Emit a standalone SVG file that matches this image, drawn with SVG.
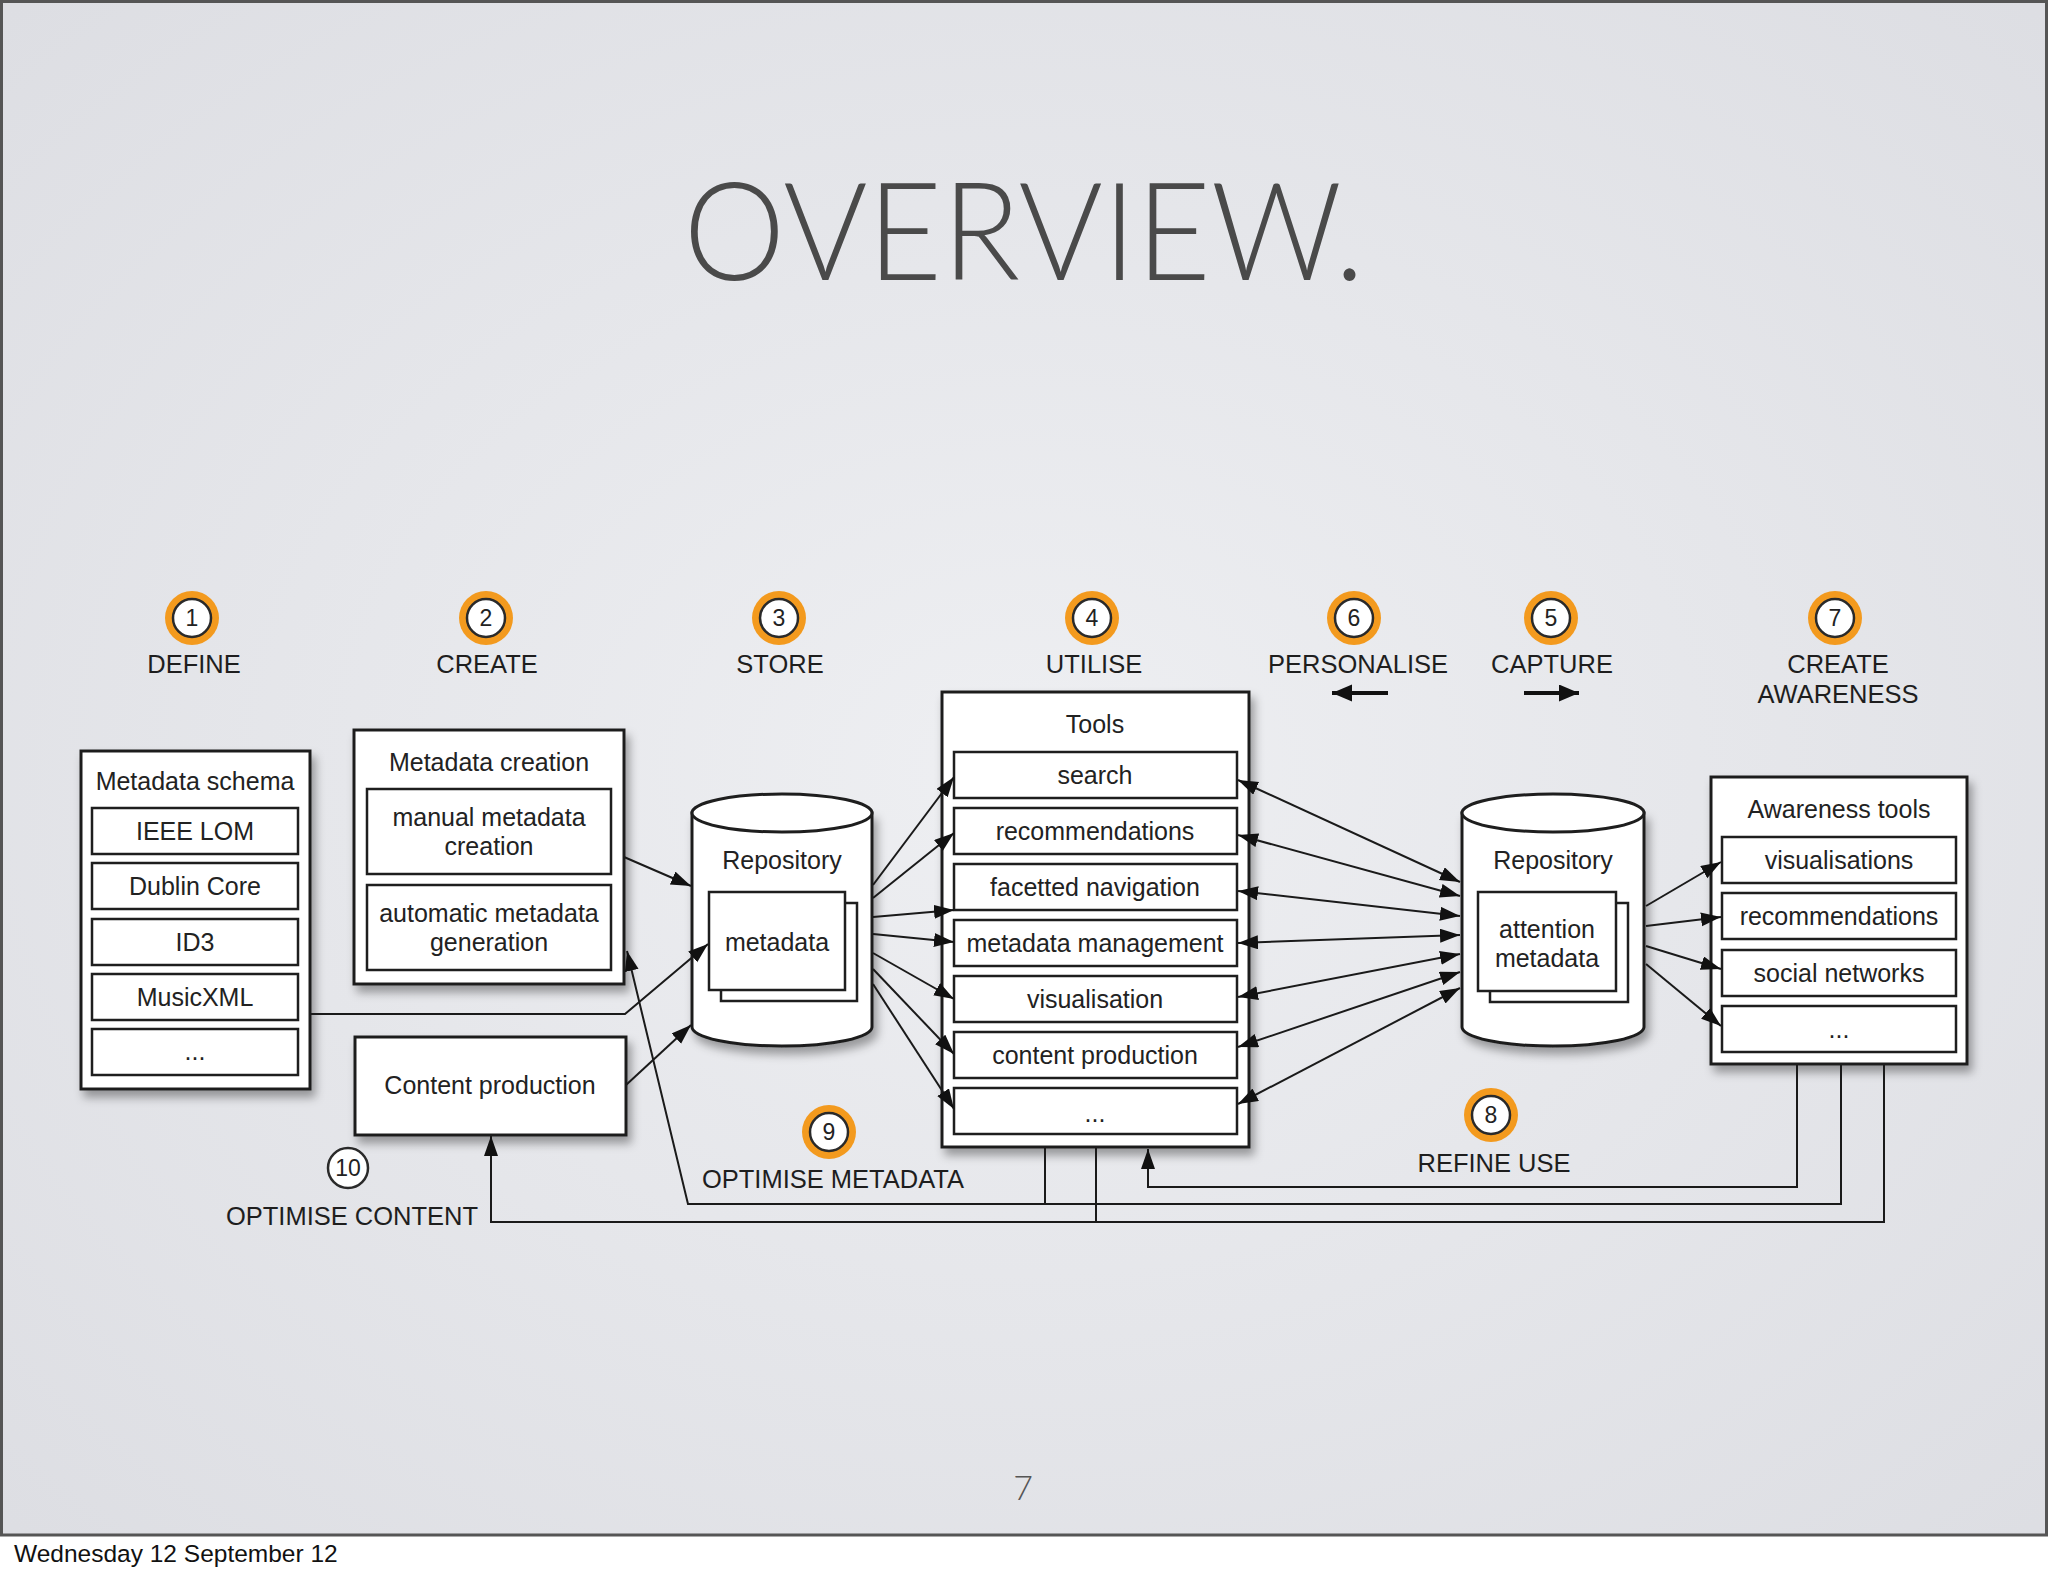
<svg xmlns="http://www.w3.org/2000/svg" width="2048" height="1576" viewBox="0 0 2048 1576">
<defs>
<radialGradient id="bg" cx="50%" cy="50%" r="70%">
<stop offset="0" stop-color="#eeeff2"/>
<stop offset="1" stop-color="#dddee3"/>
</radialGradient>
<filter id="sh" x="-10%" y="-10%" width="130%" height="130%">
<feDropShadow dx="4" dy="7" stdDeviation="5" flood-color="#000" flood-opacity="0.35"/>
</filter>
<marker id="ah" markerUnits="userSpaceOnUse" markerWidth="22" markerHeight="16" refX="20" refY="7" orient="auto-start-reverse">
<path d="M0,0 L20,7 L0,14 z" fill="#111"/>
</marker>
<marker id="big" markerUnits="userSpaceOnUse" markerWidth="22" markerHeight="18" refX="20" refY="8.5" orient="auto">
<path d="M0,0 L20,8.5 L0,17 z" fill="#111"/>
</marker>
<style>
.box{fill:#fff;stroke:#1e1e1e;stroke-width:3}
.in{fill:#fff;stroke:#1e1e1e;stroke-width:2.5}
.t{font-family:"Liberation Sans",Arial,sans-serif;font-size:25px;fill:#222;text-anchor:middle}
.lbl{font-family:"Liberation Sans",Arial,sans-serif;font-size:25.5px;fill:#1e1e1e;text-anchor:middle}
.num{font-family:"Liberation Sans",Arial,sans-serif;font-size:23px;fill:#222;text-anchor:middle}
.ring{fill:#f39a1e}
.disc{fill:#fff;stroke:#2a2a2a;stroke-width:2.5}
.c{fill:none;stroke:#1a1a1a;stroke-width:2}
.ca{fill:none;stroke:#1a1a1a;stroke-width:2;marker-end:url(#ah)}
.cb{fill:none;stroke:#1a1a1a;stroke-width:2;marker-end:url(#ah);marker-start:url(#ah)}
</style>
</defs>

<rect x="0" y="0" width="2048" height="1576" fill="#fff"/>
<rect x="1.5" y="1.5" width="2045" height="1533.5" fill="url(#bg)" stroke="#555" stroke-width="3"/>
<text x="1024" y="280" font-family="Lato,'Open Sans','DejaVu Sans',sans-serif" font-weight="300" font-size="137" fill="#4a4a4a" text-anchor="middle" textLength="681" lengthAdjust="spacingAndGlyphs">OVERVIEW.</text>
<text x="1023" y="1500" font-family="Lato,'Open Sans',sans-serif" font-weight="300" font-size="34" fill="#555" text-anchor="middle">7</text>
<text x="14" y="1562" font-family="'Liberation Sans',Arial,sans-serif" font-size="24.5" fill="#111">Wednesday 12 September 12</text>

<g id="schema">
<rect class="box" x="81" y="751" width="229" height="338" filter="url(#sh)"/>
<text class="t" x="195" y="790">Metadata schema</text>
<rect class="in" x="92" y="808" width="206" height="46"/>
<text class="t" x="195" y="840">IEEE LOM</text>
<rect class="in" x="92" y="863" width="206" height="46"/>
<text class="t" x="195" y="895">Dublin Core</text>
<rect class="in" x="92" y="919" width="206" height="46"/>
<text class="t" x="195" y="951">ID3</text>
<rect class="in" x="92" y="974" width="206" height="46"/>
<text class="t" x="195" y="1006">MusicXML</text>
<rect class="in" x="92" y="1029" width="206" height="46"/>
<text class="t" x="195" y="1060">...</text>
</g>

<g id="creation">
<rect class="box" x="354" y="730" width="270" height="254" filter="url(#sh)"/>
<text class="t" x="489" y="771">Metadata creation</text>
<rect class="in" x="367" y="789" width="244" height="85"/>
<text class="t" x="489" y="826">manual metadata</text>
<text class="t" x="489" y="855">creation</text>
<rect class="in" x="367" y="885" width="244" height="85"/>
<text class="t" x="489" y="922">automatic metadata</text>
<text class="t" x="489" y="951">generation</text>
</g>

<g id="content-production">
<rect class="box" x="355" y="1037" width="271" height="98" filter="url(#sh)"/>
<text class="t" x="490" y="1094">Content production</text>
</g>

<g id="repository">
<path class="box" d="M692,813 L692,1027 A90,19 0 0 0 872,1027 L872,813 Z" filter="url(#sh)"/>
<ellipse class="box" cx="782" cy="813" rx="90" ry="19"/>
<text class="t" x="782" y="869">Repository</text>
<rect class="in" x="721" y="903" width="136" height="98"/>
<rect class="in" x="709" y="892" width="136" height="98"/>
<text class="t" x="777" y="951">metadata</text>
</g>

<g id="tools">
<rect class="box" x="942" y="692" width="307" height="455" filter="url(#sh)"/>
<text class="t" x="1095" y="733">Tools</text>
<rect class="in" x="954" y="752" width="283" height="46"/>
<text class="t" x="1095" y="784">search</text>
<rect class="in" x="954" y="808" width="283" height="46"/>
<text class="t" x="1095" y="840">recommendations</text>
<rect class="in" x="954" y="864" width="283" height="46"/>
<text class="t" x="1095" y="896">facetted navigation</text>
<rect class="in" x="954" y="920" width="283" height="46"/>
<text class="t" x="1095" y="952">metadata management</text>
<rect class="in" x="954" y="976" width="283" height="46"/>
<text class="t" x="1095" y="1008">visualisation</text>
<rect class="in" x="954" y="1032" width="283" height="46"/>
<text class="t" x="1095" y="1064">content production</text>
<rect class="in" x="954" y="1088" width="283" height="46"/>
<text class="t" x="1095" y="1122">...</text>
</g>

<g id="attention-repository">
<path class="box" d="M1462,813 L1462,1027 A91,19 0 0 0 1644,1027 L1644,813 Z" filter="url(#sh)"/>
<ellipse class="box" cx="1553" cy="813" rx="91" ry="19"/>
<text class="t" x="1553" y="869">Repository</text>
<rect class="in" x="1490" y="903" width="138" height="99"/>
<rect class="in" x="1478" y="892" width="138" height="99"/>
<text class="t" x="1547" y="938">attention</text>
<text class="t" x="1547" y="967">metadata</text>
</g>

<g id="awareness">
<rect class="box" x="1711" y="777" width="256" height="287" filter="url(#sh)"/>
<text class="t" x="1839" y="818">Awareness tools</text>
<rect class="in" x="1722" y="837" width="234" height="46"/>
<text class="t" x="1839" y="869">visualisations</text>
<rect class="in" x="1722" y="893" width="234" height="46"/>
<text class="t" x="1839" y="925">recommendations</text>
<rect class="in" x="1722" y="950" width="234" height="46"/>
<text class="t" x="1839" y="982">social networks</text>
<rect class="in" x="1722" y="1006" width="234" height="46"/>
<text class="t" x="1839" y="1038">...</text>
</g>

<g id="connectors">
<line class="ca" x1="624" y1="857" x2="691" y2="886"/>
<polyline class="ca" points="310,1014 625,1014 708,944"/>
<line class="ca" x1="626" y1="1085" x2="691" y2="1025"/>
<polyline class="ca" points="1841,1065 1841,1204 688,1204 627,951"/>
<line class="c" x1="1045" y1="1148" x2="1045" y2="1204"/>
<polyline class="ca" points="1884,1065 1884,1222 491,1222 491,1136"/>
<line class="c" x1="1096" y1="1148" x2="1096" y2="1222"/>
<polyline class="ca" points="1797,1065 1797,1187 1148,1187 1148,1149"/>
<line class="ca" x1="873" y1="885" x2="954" y2="777"/>
<line class="ca" x1="873" y1="898" x2="954" y2="833"/>
<line class="ca" x1="873" y1="917" x2="954" y2="910"/>
<line class="ca" x1="873" y1="934" x2="954" y2="942"/>
<line class="ca" x1="873" y1="953" x2="954" y2="999"/>
<line class="ca" x1="873" y1="969" x2="954" y2="1054"/>
<line class="ca" x1="873" y1="984" x2="954" y2="1109"/>
<line class="cb" x1="1238" y1="780" x2="1460" y2="882"/>
<line class="cb" x1="1238" y1="835" x2="1460" y2="896"/>
<line class="cb" x1="1238" y1="891" x2="1460" y2="916"/>
<line class="cb" x1="1238" y1="943" x2="1460" y2="935"/>
<line class="cb" x1="1238" y1="997" x2="1460" y2="954"/>
<line class="cb" x1="1238" y1="1047" x2="1460" y2="972"/>
<line class="cb" x1="1238" y1="1104" x2="1460" y2="988"/>
<line class="ca" x1="1646" y1="906" x2="1721" y2="862"/>
<line class="ca" x1="1646" y1="926" x2="1721" y2="917"/>
<line class="ca" x1="1646" y1="946" x2="1721" y2="969"/>
<line class="ca" x1="1646" y1="964" x2="1721" y2="1026"/>
<line x1="1388" y1="693" x2="1332" y2="693" stroke="#111" stroke-width="4" marker-end="url(#big)"/>
<line x1="1524" y1="693" x2="1579" y2="693" stroke="#111" stroke-width="4" marker-end="url(#big)"/>
</g>

<g id="stages">
<text class="lbl" x="194" y="673">DEFINE</text>
<text class="lbl" x="487" y="673">CREATE</text>
<text class="lbl" x="780" y="673">STORE</text>
<text class="lbl" x="1094" y="673">UTILISE</text>
<text class="lbl" x="1358" y="673">PERSONALISE</text>
<text class="lbl" x="1552" y="673">CAPTURE</text>
<text class="lbl" x="1838" y="673">CREATE</text>
<text class="lbl" x="1838" y="703">AWARENESS</text>
<text class="lbl" x="1494" y="1172">REFINE USE</text>
<text class="lbl" x="833" y="1188">OPTIMISE METADATA</text>
<text class="lbl" x="352" y="1225">OPTIMISE CONTENT</text>
</g>

<g id="badge-1"><circle class="ring" cx="192" cy="618" r="27"/><circle class="disc" cx="192" cy="618" r="19"/><text class="num" x="192" y="626">1</text></g>
<g id="badge-2"><circle class="ring" cx="486" cy="618" r="27"/><circle class="disc" cx="486" cy="618" r="19"/><text class="num" x="486" y="626">2</text></g>
<g id="badge-3"><circle class="ring" cx="779" cy="618" r="27"/><circle class="disc" cx="779" cy="618" r="19"/><text class="num" x="779" y="626">3</text></g>
<g id="badge-4"><circle class="ring" cx="1092" cy="618" r="27"/><circle class="disc" cx="1092" cy="618" r="19"/><text class="num" x="1092" y="626">4</text></g>
<g id="badge-6"><circle class="ring" cx="1354" cy="618" r="27"/><circle class="disc" cx="1354" cy="618" r="19"/><text class="num" x="1354" y="626">6</text></g>
<g id="badge-5"><circle class="ring" cx="1551" cy="618" r="27"/><circle class="disc" cx="1551" cy="618" r="19"/><text class="num" x="1551" y="626">5</text></g>
<g id="badge-7"><circle class="ring" cx="1835" cy="618" r="27"/><circle class="disc" cx="1835" cy="618" r="19"/><text class="num" x="1835" y="626">7</text></g>
<g id="badge-8"><circle class="ring" cx="1491" cy="1115" r="27"/><circle class="disc" cx="1491" cy="1115" r="19"/><text class="num" x="1491" y="1123">8</text></g>
<g id="badge-9"><circle class="ring" cx="829" cy="1132" r="27"/><circle class="disc" cx="829" cy="1132" r="19"/><text class="num" x="829" y="1140">9</text></g>
<g id="badge-10"><circle class="disc" cx="348" cy="1168" r="20"/><text class="num" x="348" y="1176" font-size="21">10</text></g>
</svg>
